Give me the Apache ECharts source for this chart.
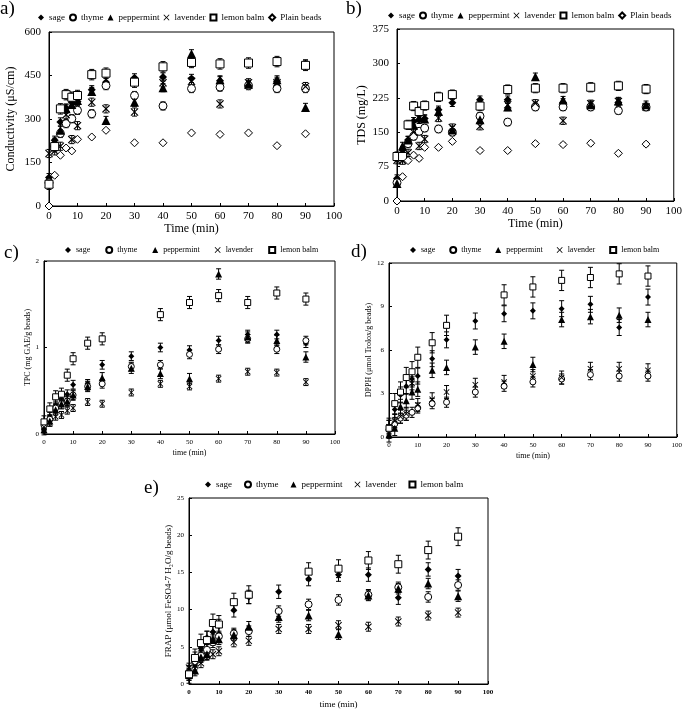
<!DOCTYPE html>
<html><head><meta charset="utf-8">
<script src="https://cdn.jsdelivr.net/npm/echarts@6/dist/echarts.min.js"></script>
<style>html,body{margin:0;padding:0;background:#fff}#c{width:685px;height:711px}</style>
</head><body><div id="c"></div>
<script>
const X = [0, 2, 4, 6, 8, 10, 15, 20, 30, 40, 50, 60, 70, 80, 90];
const NAMES = ['sage', 'thyme', 'peppermint', 'lavender', 'lemon balm', 'Plain beads'];
const xTicks = [0, 10, 20, 30, 40, 50, 60, 70, 80, 90, 100];

// a) Conductivity (µS/cm)
const aSage   = [98, 227, 290, 338, 358, 360, 401, 427, 442, 445, 440, 432, 418, 430, 490];
const aThyme  = [80, 205, 250, 284, 301, 330, 318, 415, 381, 345, 405, 410, 415, 405, 405];
const aPep    = [78, 220, 261, 335, 350, 364, 395, 295, 358, 408, 525, 435, 420, 435, 340];
const aLav    = [181, 190, 206, 315, 229, 277, 358, 335, 324, 425, 430, 352, 425, 425, 412];
const aLemon  = [75, 205, 335, 384, 375, 381, 453, 458, 427, 480, 495, 490, 493, 498, 485];
const aPlain  = [0, 106, 175, 200, 190, 230, 238, 261, 218, 218, 252, 247, 252, 208, 249];
const aErr    = [14, 14, 14, 14, 18, 5];
const aYTicks = [0, 150, 300, 450, 600];

// b) TDS (mg/L)
const bSage   = [49, 111, 133, 174, 177, 180, 199, 214, 221, 221, 208, 215, 208, 215, 243];
const bThyme  = [40, 97, 125, 141, 152, 159, 157, 150, 185, 172, 205, 205, 205, 197, 205];
const bPep    = [38, 120, 133, 165, 181, 179, 195, 155, 177, 205, 271, 220, 210, 218, 210];
const bLav    = [89, 88, 105, 150, 120, 135, 181, 160, 163, 210, 213, 175, 212, 217, 205];
const bLemon  = [97, 97, 166, 207, 195, 208, 227, 232, 207, 243, 246, 246, 248, 251, 244];
const bPlain  = [0, 53, 88, 100, 93, 117, 117, 130, 110, 110, 125, 123, 126, 104, 124];
const bErr    = [8, 8, 8, 8, 10, 4];
const bYTicks = [0, 75, 150, 225, 300, 375];

// c) TPC (mg GAE/g beads)
const cSage   = [0.06, 0.2, 0.33, 0.44, 0.46, 0.57, 0.58, 0.8, 0.9, 1.0, 0.97, 1.08, 1.15, 1.15, 1.05];
const cThyme  = [0.1, 0.17, 0.3, 0.35, 0.38, 0.45, 0.55, 0.58, 0.78, 0.8, 0.92, 0.98, 1.1, 0.98, 1.08];
const cPep    = [0.05, 0.15, 0.28, 0.35, 0.38, 0.45, 0.55, 0.65, 0.76, 0.7, 0.64, 1.85, 1.12, 1.08, 0.89];
const cLav    = [0.08, 0.13, 0.2, 0.22, 0.27, 0.3, 0.37, 0.35, 0.48, 0.58, 0.55, 0.64, 0.72, 0.71, 0.6];
const cLemon  = [0.14, 0.29, 0.43, 0.46, 0.68, 0.87, 1.05, 1.1, null, 1.38, 1.52, 1.6, 1.52, 1.63, 1.56];
const cErr    = [0.05, 0.05, 0.06, 0.04, 0.07];
const cYTicks = [0, 1, 2];

// d) DPPH (µmol Trolox/g beads)
const dSage   = [0.6, 1.9, 2.9, 3.5, 4.0, 4.2, 5.4, 6.7, 8.0, 8.5, 8.7, 8.85, 9.15, 7.55, 9.65];
const dThyme  = [0.5, 0.9, 1.3, 1.5, 1.7, 2.0, 2.3, 2.4, 3.1, 3.5, 3.8, 4.0, 4.3, 4.2, 4.2];
const dPep    = [0.15, 0.6, 2.1, 2.5, 3.1, 3.3, 4.6, 4.8, 6.2, 6.6, 5.0, 8.1, 8.3, 8.4, 8.1];
const dLav    = [0.7, 1.1, 1.4, 1.6, 3.7, 2.2, 2.6, 3.1, 3.6, 3.8, 4.2, 4.1, 4.7, 4.7, 4.6];
const dLemon  = [0.6, 2.3, 3.1, 4.1, 4.5, 5.5, 6.5, 7.7, null, 9.8, 10.35, 10.8, 11.0, 11.25, 11.1];
const dErr    = [0.55, 0.35, 0.5, 0.45, 0.7];
const dYTicks = [0, 3, 6, 9, 12];

// e) FRAP (µmol FeSO4-7 H2O/g beads)
const eSage   = [1.4, 3.4, 4.8, 6.2, 7.0, 7.8, 9.9, 11.7, 12.4, 14.1, 14.7, 14.7, 11.6, 15.4, 14.5];
const eThyme  = [1.4, 3.0, 3.8, 4.6, 5.6, 6.4, 6.8, 7.1, 9.8, 10.7, 11.3, 12.0, 13.0, 11.7, 13.3];
const ePep    = [1.2, 1.8, 3.6, 4.0, 5.9, 6.0, 6.6, 7.7, 9.0, 9.2, 6.7, 11.9, 12.8, 13.5, 11.8];
const eLav    = [2.2, 2.5, 2.8, 3.8, 4.0, 4.4, 5.6, 5.8, 7.4, 7.4, 7.9, 7.7, 8.4, 9.2, 9.6];
const eLemon  = [1.3, 3.5, 5.5, 5.9, 8.2, 8.0, 11.0, 12.0, null, 15.1, 15.5, 16.6, 16.1, 18.0, 19.8];
const eErr    = [0.9, 0.7, 0.7, 0.6, 1.2];
const eYTicks = [0, 5, 10, 15, 20, 25];

const SERIF = 'Liberation Serif';
const XPATH = 'path://M0,1L1,0L5,4L9,0L10,1L6,5L10,9L9,10L5,6L1,10L0,9L4,5Z';
const SYMBOLS = [
  {symbol: 'diamond', style: {color: '#000'}},
  {symbol: 'circle', style: {color: '#fff', borderColor: '#000', borderWidth: 1}},
  {symbol: 'triangle', style: {color: '#000'}},
  {symbol: XPATH, style: {color: '#000'}},
  {symbol: 'rect', style: {color: '#fff', borderColor: '#000', borderWidth: 1}},
  {symbol: 'diamond', style: {color: '#fff', borderColor: '#000', borderWidth: 1}}
];

const panels = [
  {grid: {left: 49, top: 32, width: 285, height: 174}, data: [aSage, aThyme, aPep, aLav, aLemon, aPlain], err: aErr, yt: aYTicks,
   size: 8, fs: 11, yname: 'Conductivity (μS/cm)', xname: 'Time (min)', nfs: 12, ygap: 32, xgap: 17,
   legend: {left: 38, top: 13, gap: 4, fs: 9, icon: 6}},
  {grid: {left: 397, top: 29, width: 279, height: 172}, data: [bSage, bThyme, bPep, bLav, bLemon, bPlain], err: bErr, yt: bYTicks,
   size: 8, fs: 11, yname: 'TDS (mg/L)', xname: 'Time (min)', nfs: 12, ygap: 29, xgap: 14,
   legend: {left: 388, top: 11, gap: 4, fs: 9, icon: 6}},
  {grid: {left: 44, top: 261, width: 291, height: 173}, data: [cSage, cThyme, cPep, cLav, cLemon], err: cErr, yt: cYTicks,
   size: 6, fs: 7, yname: 'TPC (mg GAE/g beads)', xname: 'time (min)', nfs: 8, ygap: 10, xgap: 15,
   legend: {left: 65, top: 246, gap: 15, fs: 8, icon: 6}},
  {grid: {left: 389, top: 263, width: 288, height: 174}, data: [dSage, dThyme, dPep, dLav, dLemon], err: dErr, yt: dYTicks,
   size: 6, fs: 7, yname: 'DPPH (μmol Trolox/g beads)', xname: 'time (min)', nfs: 8, ygap: 15, xgap: 15,
   legend: {left: 410, top: 246, gap: 14, fs: 8, icon: 6}},
  {grid: {left: 189, top: 498, width: 299, height: 186}, data: [eSage, eThyme, ePep, eLav, eLemon], err: eErr, yt: eYTicks,
   size: 7, fs: 7, yname: 'FRAP (μmol FeSO4-7 H₂O/g beads)', xname: 'time (min)', nfs: 9, ygap: 15, xgap: 16, xbold: true,
   legend: {left: 205, top: 480, gap: 12, fs: 9, icon: 6}}
];
const tags = [['a)', 0, 0], ['b)', 346, 0], ['c)', 4, 244], ['d)', 351, 243], ['e)', 144, 479]];

function errBar(params, api) {
  const x = api.value(0), y = api.value(1), e = api.value(2);
  const t = api.coord([x, y + e]), b = api.coord([x, y - e]);
  const w = 2.5, st = {stroke: '#000', lineWidth: 1};
  return {type: 'group', children: [
    {type: 'line', shape: {x1: t[0], y1: t[1], x2: b[0], y2: b[1]}, style: st},
    {type: 'line', shape: {x1: t[0] - w, y1: t[1], x2: t[0] + w, y2: t[1]}, style: st},
    {type: 'line', shape: {x1: b[0] - w, y1: b[1], x2: b[0] + w, y2: b[1]}, style: st}
  ]};
}

const grids = [], xAxes = [], yAxes = [], series = [], legends = [];
panels.forEach((p, i) => {
  grids.push(Object.assign({show: true, borderColor: '#000', borderWidth: 1, backgroundColor: 'transparent'}, p.grid));
  xAxes.push({type: 'value', gridIndex: i, min: 0, max: 100, interval: 10,
    name: p.xname, nameLocation: 'middle', nameGap: p.xgap,
    nameTextStyle: {fontFamily: SERIF, fontSize: p.nfs, color: '#000'},
    axisLine: {show: true, onZero: false, lineStyle: {color: '#000', width: 1}},
    axisTick: {show: true, inside: true, length: 3, lineStyle: {color: '#000'}},
    axisLabel: {fontFamily: SERIF, fontSize: p.fs, color: '#000', margin: 5, fontWeight: p.xbold ? 'bold' : 'normal'},
    splitLine: {show: false}});
  const yt = p.yt;
  yAxes.push({type: 'value', gridIndex: i, min: yt[0], max: yt[yt.length - 1], interval: yt[1] - yt[0],
    name: p.yname, nameLocation: 'middle', nameGap: p.ygap,
    nameTextStyle: {fontFamily: SERIF, fontSize: p.nfs, color: '#000'},
    axisLine: {show: true, lineStyle: {color: '#000', width: 1}},
    axisTick: {show: true, inside: true, length: 3, lineStyle: {color: '#000'}},
    axisLabel: {fontFamily: SERIF, fontSize: p.fs, color: '#000', margin: p.fs === 11 ? 8 : 5},
    splitLine: {show: false}});
  const names = NAMES.slice(0, p.data.length);
  legends.push({left: p.legend.left, top: p.legend.top, width: 420, orient: 'horizontal', data: names,
    itemGap: p.legend.gap, itemWidth: p.legend.icon, itemHeight: p.legend.icon, selectedMode: false, padding: 0,
    textStyle: {fontFamily: SERIF, fontSize: p.legend.fs, color: '#000'}});
  p.data.forEach((arr, k) => {
    const pts = [], eps = [];
    X.forEach((x, j) => { if (arr[j] !== null) { pts.push([x, arr[j]]); eps.push([x, arr[j], p.err[k]]); } });
    series.push({type: 'custom', name: 'err' + i + '_' + k, xAxisIndex: i, yAxisIndex: i,
      renderItem: errBar, data: eps, encode: {x: 0, y: 1}, z: 1, silent: true});
    series.push({type: 'scatter', name: names[k], xAxisIndex: i, yAxisIndex: i, data: pts,
      symbol: SYMBOLS[k].symbol, symbolSize: k === 2 ? p.size + 1 : p.size,
      itemStyle: Object.assign({opacity: 1}, SYMBOLS[k].style), z: 3, silent: true});
  });
});

const chart = echarts.init(document.getElementById('c'), null, {renderer: 'canvas'});
chart.setOption({
  animation: false,
  backgroundColor: '#fff',
  grid: grids, xAxis: xAxes, yAxis: yAxes, legend: legends, series: series,
  graphic: tags.map(t => ({type: 'text', left: t[1], top: t[2],
    style: {text: t[0], font: '19px "Liberation Serif"', fill: '#000'}}))
});
</script></body></html>
